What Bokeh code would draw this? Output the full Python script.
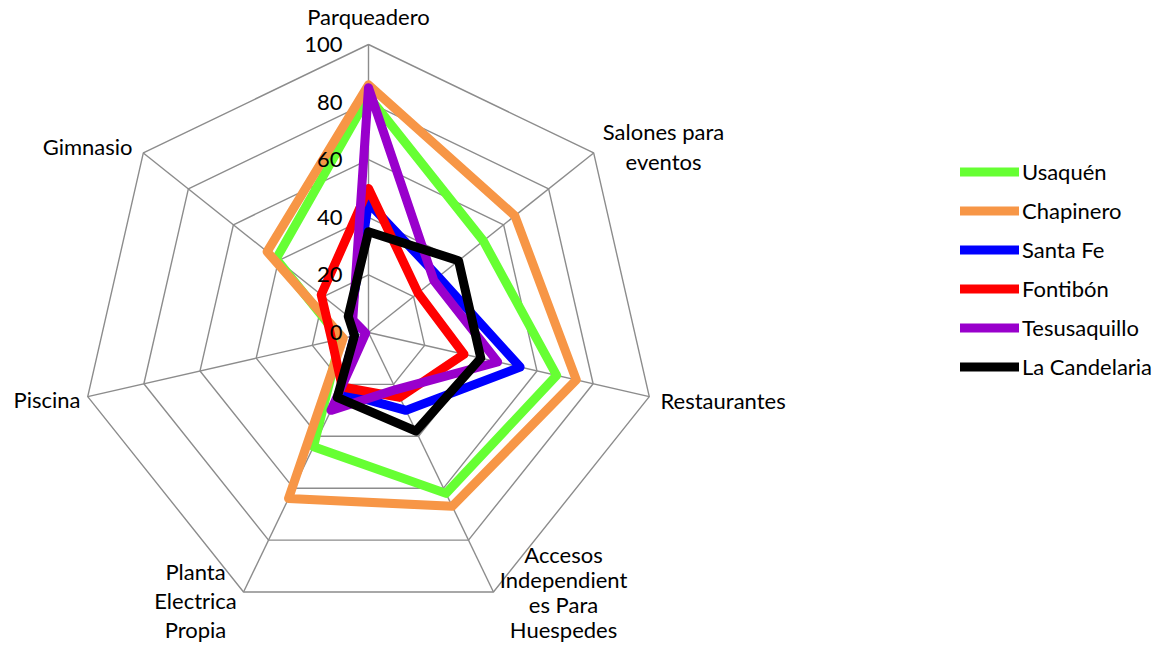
import numpy as np
from bokeh.plotting import figure
from bokeh.models import Range1d, Legend, LegendItem
from bokeh.core.properties import value
from bokeh.embed import file_html
from bokeh.resources import INLINE

# ---------------- data ----------------
categories = ["Parqueadero", "Salones para eventos", "Restaurantes",
              "Accesos Independientes Para Huespedes", "Planta Electrica Propia",
              "Piscina", "Gimnasio"]
category_lines = [["Parqueadero"], ["Salones para", "eventos"], ["Restaurantes"],
                  ["Accesos", "Independient", "es Para", "Huespedes"],
                  ["Planta", "Electrica", "Propia"], ["Piscina"], ["Gimnasio"]]

usaquen = [82, 51, 67, 62, 44, 10, 41]
chapinero = [86, 65, 74, 67, 64, 9, 45]
santa_fe = [45, 31, 54, 30, 23, 5, 8]
fontibon = [50, 22, 34, 25, 21, 13, 21]
tesusaquillo = [85, 29, 46, 22, 30, 1, 7]
la_candelaria = [35, 40, 40, 38, 25, 5, 9]

series_names = ["Usaquén", "Chapinero", "Santa Fe", "Fontibón", "Tesusaquillo", "La Candelaria"]
series_values = [usaquen, chapinero, santa_fe, fontibon, tesusaquillo, la_candelaria]
series_colors = ["#66FF33", "#F79646", "#0000FF", "#FF0000", "#9900CC", "#000000"]

tick_values = [0, 20, 40, 60, 80, 100]
tick_labels = ["0", "20", "40", "60", "80", "100"]

# ---------------- layout ----------------
W, H = 1159, 644
SCALE = 2.88          # px per unit of value
CX, CY = 368, 332     # centre in figure px from left / top
FONT_NAME = "Lato"
FONT = value(FONT_NAME)
FS = "22px"

p = figure(width=W, height=H, output_backend="svg", toolbar_location=None,
           x_range=Range1d(-CX, W - CX), y_range=Range1d(CY - H, CY),
           x_axis_type=None, y_axis_type=None, min_border=0)
p.grid.visible = False
p.outline_line_color = None
p.background_fill_color = "white"
p.border_fill_color = "white"

n = len(categories)
ang = np.pi / 2 - np.arange(n) * 2 * np.pi / n

def polar(vals):
    r = np.asarray(vals, dtype=float) * SCALE
    x = r * np.cos(ang)
    y = r * np.sin(ang)
    return np.append(x, x[0]), np.append(y, y[0])

# grid rings
grid_col = "#8C8C8C"
for t in tick_values[1:]:
    gx, gy = polar([t] * n)
    p.line(gx, gy, line_color=grid_col, line_width=1.4)
# spokes
sx, sy = polar([tick_values[-1]] * n)
p.segment(x0=[0] * n, y0=[0] * n, x1=sx[:-1], y1=sy[:-1], line_color=grid_col, line_width=1.4)

# series
items = []
for name, vals, col in zip(series_names, series_values, series_colors):
    x, y = polar(vals)
    r = p.line(x, y, line_color=col, line_width=9, line_join="round", line_cap="round")
    items.append(LegendItem(label=name, renderers=[r]))

# tick labels (drawn above the series)
p.text(x=[-26] * len(tick_values), y=[v * SCALE for v in tick_values], text=tick_labels,
       text_align="right", text_baseline="middle", text_font=FONT,
       text_font_size=FS, text_color="#000000")

# category labels: (x, y of first line, align, line step)
label_anchor = [
    (0, 316, "center", 0),
    (295, 201, "center", 30),
    (292, -68, "left", 0),
    (195, -222, "center", 25),
    (-173, -239, "center", 29),
    (-288, -67, "right", 0),
    (-236, 186, "right", 0),
]
for lines, (ax, ay, al, step) in zip(category_lines, label_anchor):
    ys = [ay - i * step for i in range(len(lines))]
    p.text(x=[ax] * len(lines), y=ys, text=lines, text_align=al, text_baseline="middle",
           text_font=FONT, text_font_size=FS, text_color="#000000")

legend = Legend(items=items, location=(960, 264), orientation="vertical",
                glyph_width=59, glyph_height=27, label_height=27, spacing=12,
                label_standoff=3, padding=0, margin=0,
                label_text_font=FONT_NAME, label_text_font_size="22px",
                label_text_color="#000000",
                background_fill_alpha=0, border_line_color=None)
p.add_layout(legend)

open("out.html", "w").write(file_html(p, INLINE))
